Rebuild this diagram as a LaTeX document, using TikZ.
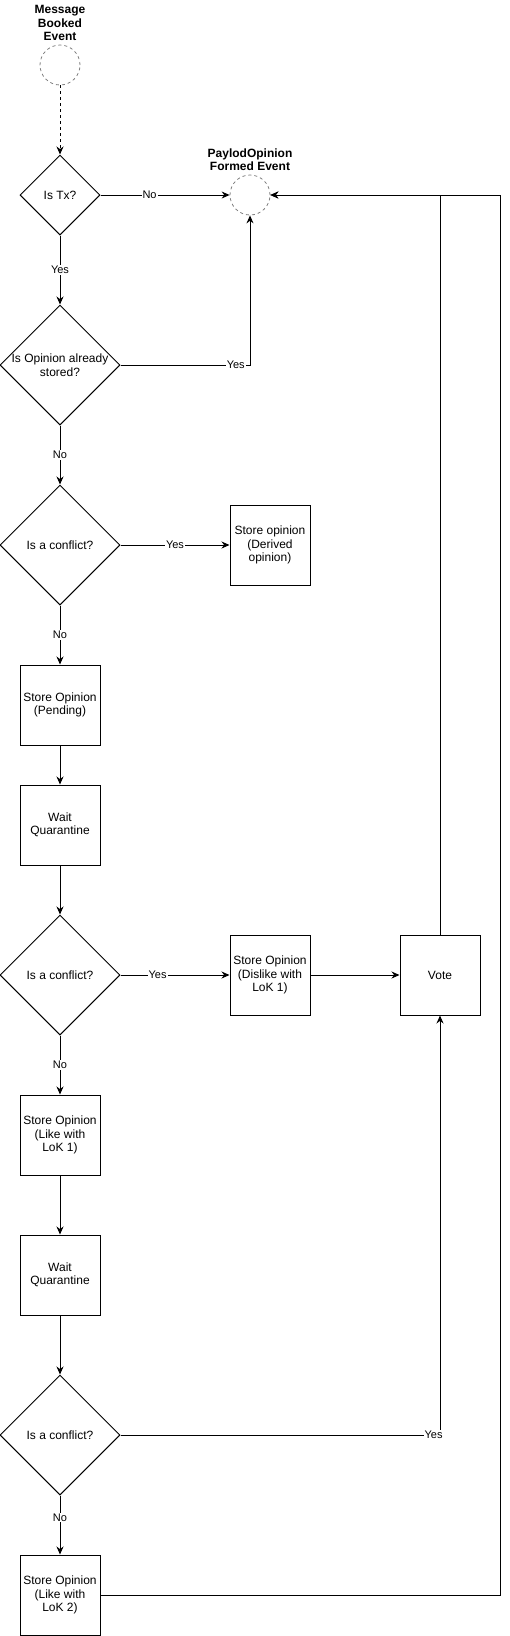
\documentclass[tikz,border=0pt]{standalone}
\usepackage{fontspec}
\setmainfont{Liberation Sans}
\usetikzlibrary{shapes.geometric,arrows.meta}
\tikzset{
  dia/.style={diamond, draw, inner sep=0pt, minimum size=#1},
  box/.style={draw, minimum size=80pt, inner sep=1pt, align=center},
  event/.style={circle, draw=gray, dashed, line width=0.8pt, minimum size=40pt, inner sep=0pt},
  title/.style={align=center, font=\fontsize{12}{13.5}\selectfont\bfseries},
  lbl/.style={fill=white, inner sep=1pt, font=\fontsize{11}{12}\selectfont},
}
\begin{document}
\begin{tikzpicture}[x=1pt, y=-1pt, line width=1pt, >={Stealth[length=8pt,width=7pt]}, font=\fontsize{12}{13.5}\selectfont]
				\useasboundingbox (0,0) rectangle (509,1636);
				% events
				\node[event, label={[title]above:Message\\Booked\\Event}] (booked) at (60,65) {};
				\node[event, label={[title]above:PaylodOpinion\\Formed Event}] (formed) at (250,195) {};
				% main column
				\node[dia=80pt] (istx) at (60,195) {Is Tx?};
				\node[dia=120pt, label={[align=center]center:Is Opinion already\\stored?}] (stored) at (60,365) {};
				\node[dia=120pt] (conf1) at (60,545) {Is a conflict?};
				\node[box] (derived) at (270,545) {Store opinion\\(Derived\\opinion)};
				\node[box] (pending) at (60,705) {Store Opinion\\(Pending)};
				\node[box] (wait1) at (60,825) {Wait\\Quarantine};
				\node[dia=120pt] (conf2) at (60,975) {Is a conflict?};
				\node[box] (dislike) at (270,975) {Store Opinion\\(Dislike with\\LoK 1)};
				\node[box] (vote) at (440,975) {Vote};
				\node[box] (like1) at (60,1135) {Store Opinion\\(Like with\\LoK 1)};
				\node[box] (wait2) at (60,1275) {Wait\\Quarantine};
				\node[dia=120pt] (conf3) at (60,1435) {Is a conflict?};
				\node[box] (like2) at (60,1595) {Store Opinion\\(Like with\\LoK 2)};
				\coordinate (rtop) at (500,195);
				% connectors
				\draw[->, dashed] (booked) -- (istx);
				\draw[->] (istx) -- node[lbl, pos=0.38] {No} (formed);
				\draw[->] (istx) -- node[lbl] {Yes} (stored);
				\draw[->] (stored) -| node[lbl, pos=0.445] {Yes} (formed);
				\draw[->] (stored) -- node[lbl] {No} (conf1);
				\draw[->] (conf1) -- node[lbl] {Yes} (derived);
				\draw[->] (conf1) -- node[lbl] {No} (pending);
				\draw[->] (pending) -- (wait1);
				\draw[->] (wait1) -- (conf2);
				\draw[->] (conf2) -- node[lbl, pos=0.34] {Yes} (dislike);
				\draw[->] (dislike) -- (vote);
				\draw[->] (conf2) -- node[lbl] {No} (like1);
				\draw[->] (like1) -- (wait2);
				\draw[->] (wait2) -- (conf3);
				\draw[->] (conf3) -| node[lbl, pos=0.49] {Yes} (vote);
				\draw[->] (conf3) -- node[lbl, pos=0.37] {No} (like2);
				\draw[->] (vote) |- (formed);
				\draw[->] (like2) -| (rtop) -- (formed);
			\end{tikzpicture}
\end{document}
